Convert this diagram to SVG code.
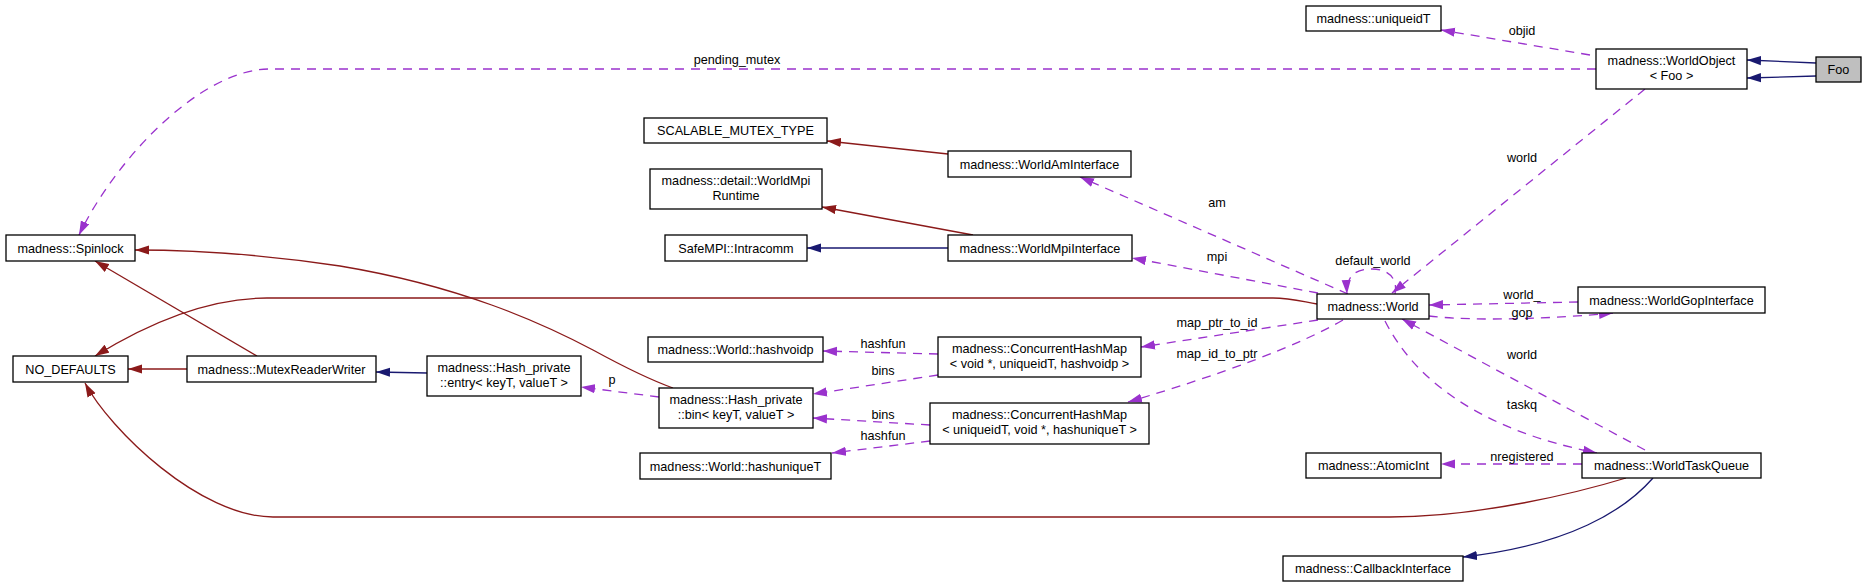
<svg xmlns="http://www.w3.org/2000/svg" width="1867" height="587" viewBox="0 0 1867 587">
<style>
  .node rect { fill:#ffffff; stroke:#000000; stroke-width:1.3; }
  .node.main rect { fill:#bfbfbf; }
  text { font-family:"Liberation Sans", Arial, Helvetica, sans-serif; font-size:12.67px; fill:#000000; text-anchor:middle; }
  .edges path { fill:none; stroke-width:1.3; }
  .red { stroke:#8B1A1A; marker-end:url(#ah-red); }
  .blue { stroke:#191970; marker-end:url(#ah-blue); }
  .purple { stroke:#9A32CD; stroke-dasharray:9,7; marker-end:url(#ah-purple); }
</style>
<defs>
  <marker id="ah-red" markerUnits="userSpaceOnUse" markerWidth="14" markerHeight="10" viewBox="0 0 14 10" refX="14" refY="5" orient="auto"><path d="M0,0.4 L14,5 L0,9.6 z" fill="#8B1A1A"/></marker>
  <marker id="ah-blue" markerUnits="userSpaceOnUse" markerWidth="14" markerHeight="10" viewBox="0 0 14 10" refX="14" refY="5" orient="auto"><path d="M0,0.4 L14,5 L0,9.6 z" fill="#191970"/></marker>
  <marker id="ah-purple" markerUnits="userSpaceOnUse" markerWidth="14" markerHeight="10" viewBox="0 0 14 10" refX="14" refY="5" orient="auto"><path d="M0,0.4 L14,5 L0,9.6 z" fill="#9A32CD"/></marker>
</defs>
<rect x="0" y="0" width="1867" height="587" fill="#ffffff"/>

<g id="connectors" class="edges">
  <path class="purple" d="M1596,69 L270,69 C200,69 115,160 79,235"/>
  <text x="737" y="64">pending_mutex</text>
  <path class="red" d="M257,356 L95,261"/>
  <path class="red" d="M673,388 C645,378 615,362 593,350 C540,322 460,286 340,266 C260,254 190,250 135,250"/>
  <path class="red" d="M1317,304 C1300,301 1290,298 1273,298 L267,298 C210,298 150,322 95,356"/>
  <path class="red" d="M187,369 L128,369"/>
  <path class="red" d="M1626,478 C1580,492 1480,517 1390,517 L273,517 C200,517 110,430 85,383"/>
  <path class="blue" d="M427,373 L376,372"/>
  <path class="purple" d="M659,397 L581,387"/>
  <text x="612" y="384">p</text>
  <path class="purple" d="M938,354 L823,351"/>
  <text x="883" y="348">hashfun</text>
  <path class="purple" d="M938,375 L813,394"/>
  <text x="883" y="375">bins</text>
  <path class="purple" d="M930,425 L813,418"/>
  <text x="883" y="419">bins</text>
  <path class="purple" d="M930,441 L832,453"/>
  <text x="883" y="440">hashfun</text>
  <path class="purple" d="M1318,320 L1141,347"/>
  <text x="1217" y="327">map_ptr_to_id</text>
  <path class="purple" d="M1343,320 C1300,345 1220,375 1128,402"/>
  <text x="1217" y="358">map_id_to_ptr</text>
  <path class="purple" d="M1582,464 L1441,464"/>
  <text x="1522" y="461">nregistered</text>
  <path class="blue" d="M1653,478 C1625,510 1570,545 1463,557"/>
  <path class="purple" d="M1645,450 L1402,319"/>
  <text x="1522" y="359">world</text>
  <path class="purple" d="M1385,321 C1415,380 1480,430 1597,453"/>
  <text x="1522" y="409">taskq</text>
  <path class="purple" d="M1578,302 L1429,305"/>
  <text x="1522" y="299">world_</text>
  <path class="purple" d="M1429,316 C1480,322 1560,318 1613,313"/>
  <text x="1522" y="317">gop</text>
  <path class="purple" d="M1590,55 L1441,30"/>
  <text x="1522" y="35">objid</text>
  <path class="red" d="M948,154 L827,141"/>
  <path class="red" d="M973,235 L822,207"/>
  <path class="blue" d="M948,248 L807,248"/>
  <path class="purple" d="M1348,294 L1080,177"/>
  <text x="1217" y="207">am</text>
  <path class="purple" d="M1318,293 L1132,258"/>
  <text x="1217" y="261">mpi</text>
  <path class="purple" d="M1395,294 C1398,280 1390,269 1372,269 C1355,269 1346,276 1347,294"/>
  <text x="1373" y="265">default_world</text>
  <path class="purple" d="M1645,89 L1392,293"/>
  <text x="1522" y="162">world</text>
  <path class="blue" d="M1816,63 L1747,60"/>
  <path class="blue" d="M1816,76 L1747,78"/>
</g>

<g id="node-Foo" class="node main"><rect x="1816" y="57" width="45" height="25"/><text x="1838.5" y="74">Foo</text></g>
<g id="node-WorldObject" class="node"><rect x="1596" y="49" width="151" height="40"/><text x="1671.5" y="65">madness::WorldObject</text><text x="1671.5" y="80">&lt; Foo &gt;</text></g>
<g id="node-uniqueidT" class="node"><rect x="1306" y="6" width="135" height="25"/><text x="1373.5" y="23">madness::uniqueidT</text></g>
<g id="node-Spinlock" class="node"><rect x="6" y="235" width="129" height="26"/><text x="70.5" y="252.5">madness::Spinlock</text></g>
<g id="node-SCALABLE_MUTEX_TYPE" class="node"><rect x="644" y="118" width="183" height="25"/><text x="735.5" y="135">SCALABLE_MUTEX_TYPE</text></g>
<g id="node-WorldMpiRuntime" class="node"><rect x="650" y="169" width="172" height="40"/><text x="736" y="185">madness::detail::WorldMpi</text><text x="736" y="200">Runtime</text></g>
<g id="node-Intracomm" class="node"><rect x="665" y="235" width="142" height="26"/><text x="736" y="252.5">SafeMPI::Intracomm</text></g>
<g id="node-WorldAmInterface" class="node"><rect x="948" y="151" width="183" height="26"/><text x="1039.5" y="168.5">madness::WorldAmInterface</text></g>
<g id="node-WorldMpiInterface" class="node"><rect x="948" y="235" width="184" height="26"/><text x="1040" y="252.5">madness::WorldMpiInterface</text></g>
<g id="node-World" class="node"><rect x="1317" y="294" width="112" height="25"/><text x="1373" y="311">madness::World</text></g>
<g id="node-WorldGopInterface" class="node"><rect x="1578" y="287" width="187" height="26"/><text x="1671.5" y="304.5">madness::WorldGopInterface</text></g>
<g id="node-NO_DEFAULTS" class="node"><rect x="13" y="356" width="115" height="26"/><text x="70.5" y="373.5">NO_DEFAULTS</text></g>
<g id="node-MutexReaderWriter" class="node"><rect x="187" y="356" width="189" height="26"/><text x="281.5" y="373.5">madness::MutexReaderWriter</text></g>
<g id="node-HashEntry" class="node"><rect x="427" y="356" width="154" height="40"/><text x="504" y="372">madness::Hash_private</text><text x="504" y="387">::entry&lt; keyT, valueT &gt;</text></g>
<g id="node-HashBin" class="node"><rect x="659" y="388" width="154" height="40"/><text x="736" y="404">madness::Hash_private</text><text x="736" y="419">::bin&lt; keyT, valueT &gt;</text></g>
<g id="node-hashvoidp" class="node"><rect x="648" y="337" width="175" height="25"/><text x="735.5" y="354">madness::World::hashvoidp</text></g>
<g id="node-hashuniqueT" class="node"><rect x="640" y="453" width="191" height="26"/><text x="735.5" y="470.5">madness::World::hashuniqueT</text></g>
<g id="node-CHM1" class="node"><rect x="938" y="337" width="203" height="40"/><text x="1039.5" y="353">madness::ConcurrentHashMap</text><text x="1039.5" y="368">&lt; void *, uniqueidT, hashvoidp &gt;</text></g>
<g id="node-CHM2" class="node"><rect x="930" y="403" width="219" height="41"/><text x="1039.5" y="419">madness::ConcurrentHashMap</text><text x="1039.5" y="434">&lt; uniqueidT, void *, hashuniqueT &gt;</text></g>
<g id="node-AtomicInt" class="node"><rect x="1306" y="453" width="135" height="25"/><text x="1373.5" y="470">madness::AtomicInt</text></g>
<g id="node-WorldTaskQueue" class="node"><rect x="1582" y="453" width="179" height="25"/><text x="1671.5" y="470">madness::WorldTaskQueue</text></g>
<g id="node-CallbackInterface" class="node"><rect x="1283" y="556" width="180" height="25"/><text x="1373" y="573">madness::CallbackInterface</text></g>
</svg>
